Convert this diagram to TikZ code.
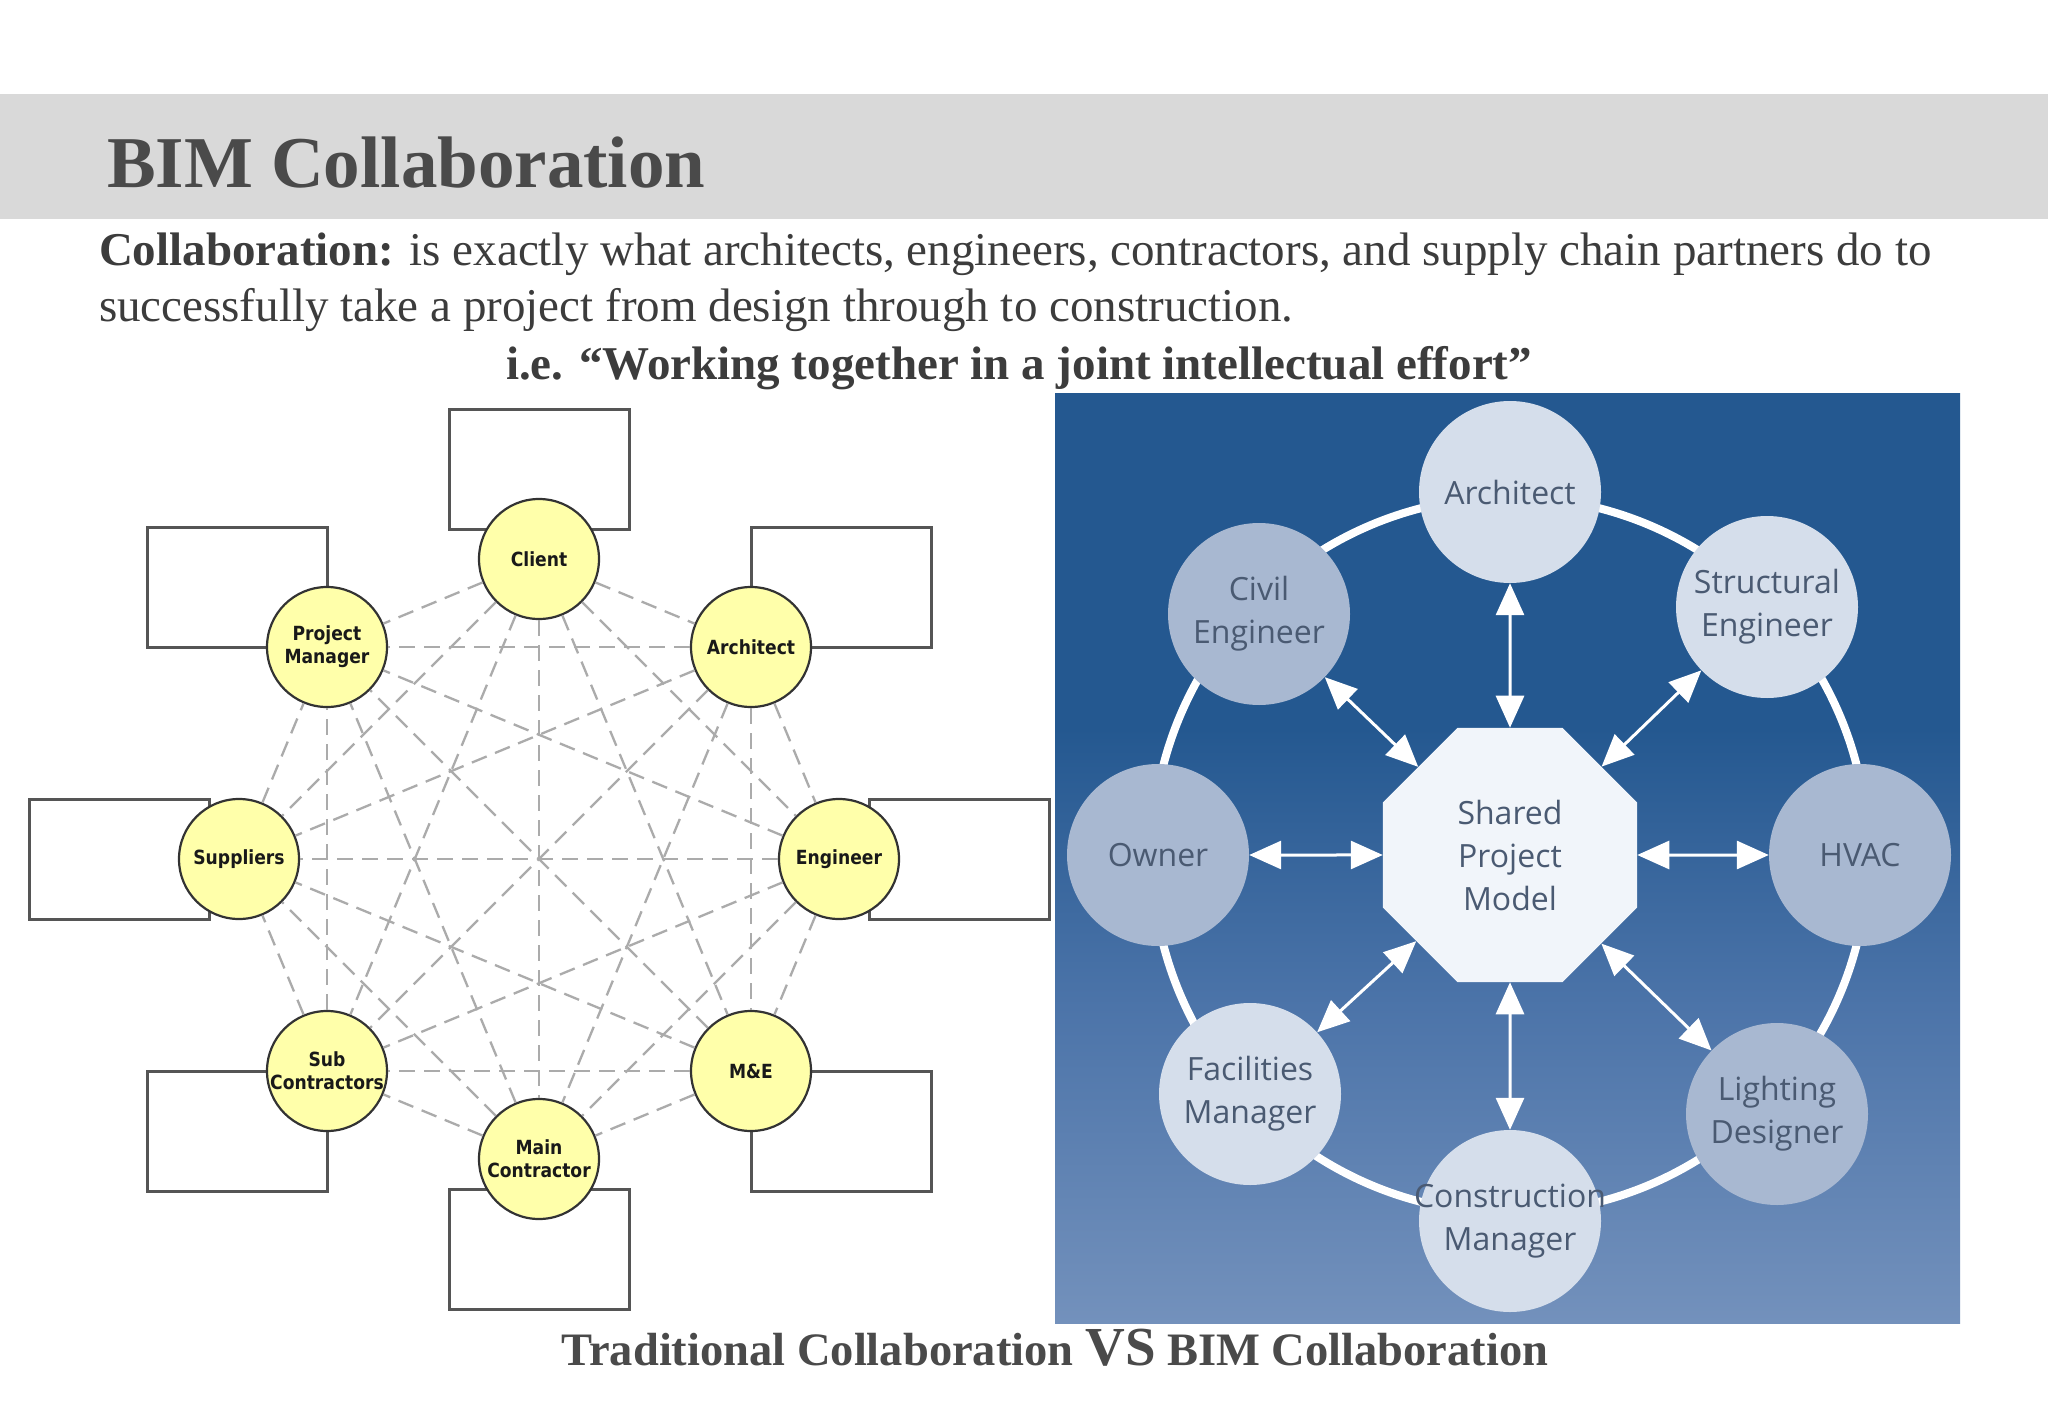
\documentclass[tikz,border=0pt]{standalone}
\usepackage{fontspec}
\setmainfont{Liberation Serif}
\newfontfamily\lfont[FakeStretch=0.88]{DejaVu Sans}
\newfontfamily\rfont{Open Sans}
\usetikzlibrary{shapes.geometric,arrows.meta}
\definecolor{banner}{HTML}{D9D9D9}
\definecolor{titlegray}{HTML}{4A4A4A}
\definecolor{bodygray}{HTML}{3C3C3C}
\definecolor{yfill}{HTML}{FFFFAA}
\definecolor{yedge}{HTML}{333333}
\definecolor{boxedge}{HTML}{555555}
\definecolor{dashgray}{HTML}{ABABAB}
\definecolor{ptop}{HTML}{245890}
\definecolor{pmid}{HTML}{4C74A9}
\definecolor{pbot}{HTML}{7391BC}
\definecolor{clight}{HTML}{D5DEEB}
\definecolor{cdark}{HTML}{A8B8D1}
\definecolor{octfill}{HTML}{F1F5FA}
\definecolor{rtext}{HTML}{4A5A72}
\pgfdeclareverticalshading{panelshade}{100bp}{color(0bp)=(pbot); color(25bp)=(pbot); color(42bp)=(pmid); color(57bp)=(ptop); color(75bp)=(ptop); color(100bp)=(ptop)}
\begin{document}
\begin{tikzpicture}[x=1pt,y=-1pt,
  txt/.style={inner sep=0pt, outer sep=0pt},
  ycirc/.style={circle, draw=yedge, line width=2.2pt, fill=yfill, minimum size=120pt, inner sep=0pt, align=center, text=black!90,
    font=\lfont\bfseries\fontsize{19.5}{23}\selectfont},
  lbox/.style={rectangle, draw=boxedge, line width=3pt, fill=white, minimum width=180pt, minimum height=120pt, inner sep=0pt},
  tradline/.style={draw=dashgray, line width=2.3pt, dash pattern=on 16pt off 9pt},
  rcirc/.style={circle, minimum size=182pt, inner sep=0pt, align=center, text=rtext,
    font=\rfont\fontsize{32}{43}\selectfont},
  rlight/.style={rcirc, fill=clight},
  rdark/.style={rcirc, fill=cdark},
  barrow/.style={draw=white, line width=3pt, {Triangle[length=32pt,width=28pt]}-{Triangle[length=32pt,width=28pt]}, fill=white}
]
\useasboundingbox (0,0) rectangle (2048,1418);
\fill[white] (0,0) rectangle (2048,1418);
% banner
\fill[banner] (0,94) rectangle (2048,219);
\node[txt, anchor=base west, text=titlegray, font=\fontsize{73}{80}\selectfont\bfseries] (title) at (107,187) {BIM Collaboration};
\node[txt, anchor=base west, text=bodygray, font=\fontsize{47}{56}\selectfont] (l1) at (99,265) {\textbf{Collaboration:} is exactly what architects, engineers, contractors, and supply chain partners do to};
\node[txt, anchor=base west, text=bodygray, font=\fontsize{47}{56}\selectfont] (l2) at (99,321) {successfully take a project from design through to construction.};
\node[txt, anchor=base, text=bodygray, font=\fontsize{47}{56}\selectfont\bfseries] (l3) at (1019,379) {i.e. “Working together in a joint intellectual effort”};
\node[txt, anchor=base, text=titlegray, font=\fontsize{46.5}{56}\selectfont\bfseries] (cap) at (1055,1365) {Traditional Collaboration {\fontsize{55}{60}\selectfont VS} BIM Collaboration};

% ---------- traditional collaboration ----------
\node[lbox] (b1) at (539,469) {};
\node[lbox] (b2) at (841,587) {};
\node[lbox] (b3) at (959,859) {};
\node[lbox] (b4) at (841,1131) {};
\node[lbox] (b5) at (539,1249) {};
\node[lbox] (b6) at (237,1131) {};
\node[lbox] (b7) at (119,859) {};
\node[lbox] (b8) at (237,587) {};

\node[ycirc] (c1) at (539,559) {Client};
\node[ycirc] (c2) at (751,647) {Architect};
\node[ycirc] (c3) at (839,859) {Engineer};
\node[ycirc] (c4) at (751,1071) {M\&E};
\node[ycirc] (c5) at (539,1159) {Main\\Contractor};
\node[ycirc] (c6) at (327,1071) {Sub\\Contractors};
\node[ycirc] (c7) at (239,859) {Suppliers};
\node[ycirc] (c8) at (327,647) {Project\\Manager};

\foreach \i in {1,...,7}{
  \pgfmathtruncatemacro\ii{\i+1}
  \foreach \j in {\ii,...,8}{
    \draw[tradline] (c\i) -- (c\j);
  }
}

% ---------- BIM collaboration ----------
\shade[shading=panelshade] (1055,393) rectangle (1960,1323);
\draw[white, line width=8pt] (1510,855) circle[radius=358pt];

\node[regular polygon, regular polygon sides=8, minimum size=275pt, inner sep=0pt, fill=octfill, align=center, text=rtext,
  font=\rfont\fontsize{32}{43}\selectfont] (sh) at (1510,855) {Shared\\Project\\Model};

\node[rlight] (ar) at (1510,492) {Architect};
\node[rdark]  (ce) at (1259,614) {Civil\\Engineer};
\node[rlight] (se) at (1767,607) {Structural\\Engineer};
\node[rdark]  (ow) at (1158,855) {Owner};
\node[rdark]  (hv) at (1860,855) {HVAC};
\node[rlight] (fm) at (1250,1094) {Facilities\\Manager};
\node[rdark]  (ld) at (1777,1114) {Lighting\\Designer};
\node[rlight] (cm) at (1510,1221) {\makebox[0pt]{Construction}\\Manager};

\foreach \n in {ar,ce,se,ow,hv,fm,ld,cm}{
  \draw[barrow] (sh) -- (\n);
}
\end{tikzpicture}
\end{document}
